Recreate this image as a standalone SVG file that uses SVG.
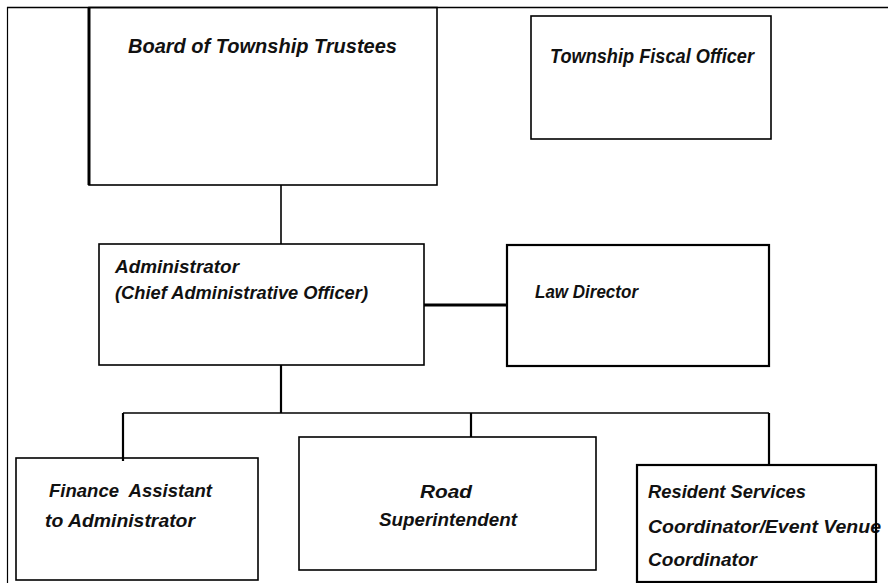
<svg xmlns="http://www.w3.org/2000/svg" width="888" height="583" viewBox="0 0 888 583">
<style>
.box{fill:none;stroke:#000;stroke-width:1.6}
.bx2{stroke-width:2.2}
.t{font-family:"Liberation Sans",Arial,sans-serif;font-weight:bold;font-style:italic;font-size:19px;fill:#111}
.c{stroke:#000;stroke-width:1.6;fill:none}
.c2{stroke-width:2.2}
.c3{stroke-width:3}
</style>
<rect x="0" y="0" width="888" height="583" fill="#fff"/>
<g id="frame">
<line x1="7.5" y1="7" x2="7.5" y2="583" stroke="#000" stroke-width="1.2"/>
<line x1="7" y1="7.5" x2="888" y2="7.5" stroke="#000" stroke-width="1.5"/>
</g>
<g id="connectors">
<line class="c" x1="281" y1="185" x2="281" y2="244"/>
<line class="c c3" x1="424" y1="305" x2="507" y2="305"/>
<line class="c c2" x1="281" y1="365" x2="281" y2="413"/>
<line class="c" x1="123" y1="413" x2="769" y2="413"/>
<line class="c c2" x1="123" y1="413" x2="123" y2="461"/>
<line class="c c2" x1="471" y1="413" x2="471" y2="437"/>
<line class="c c2" x1="769" y1="413" x2="769" y2="465"/>
</g>
<g id="board">
<rect class="box" x="89" y="7.5" width="348" height="177.5"/>
<line x1="89" y1="7" x2="89" y2="185" stroke="#000" stroke-width="3"/>
<text class="t" x="128" y="53" style="font-size:20px" textLength="269" lengthAdjust="spacingAndGlyphs">Board of Township Trustees</text>
</g>
<g id="fiscal">
<rect class="box" x="531" y="16" width="240" height="123"/>
<text class="t" x="550" y="63" style="font-size:20px" textLength="204" lengthAdjust="spacingAndGlyphs">Township Fiscal Officer</text>
</g>
<g id="admin">
<rect class="box" x="99" y="244" width="325" height="121"/>
<text class="t" x="115" y="273" textLength="124" lengthAdjust="spacingAndGlyphs">Administrator</text>
<text class="t" x="115" y="299" textLength="253" lengthAdjust="spacingAndGlyphs">(Chief Administrative Officer)</text>
</g>
<g id="law">
<rect class="box bx2" x="507" y="245" width="262" height="121"/>
<text class="t" x="535" y="298" textLength="103" lengthAdjust="spacingAndGlyphs">Law Director</text>
</g>
<g id="finance">
<rect class="box" x="16" y="458" width="242" height="122"/>
<text class="t" x="49" y="497" xml:space="preserve" textLength="163" lengthAdjust="spacingAndGlyphs">Finance  Assistant</text>
<text class="t" x="45" y="527" textLength="150" lengthAdjust="spacingAndGlyphs">to Administrator</text>
</g>
<g id="road">
<rect class="box" x="299" y="437" width="297" height="133"/>
<text class="t" x="420" y="498" textLength="52" lengthAdjust="spacingAndGlyphs">Road</text>
<text class="t" x="379" y="526" textLength="138" lengthAdjust="spacingAndGlyphs">Superintendent</text>
</g>
<g id="resident">
<text class="t" x="648" y="498" textLength="158" lengthAdjust="spacingAndGlyphs">Resident Services</text>
<text class="t" x="648" y="533" textLength="233" lengthAdjust="spacingAndGlyphs">Coordinator/Event Venue</text>
<text class="t" x="648" y="566" textLength="109" lengthAdjust="spacingAndGlyphs">Coordinator</text>
<rect class="box bx2" x="637" y="465" width="239" height="117"/>
</g>
</svg>
